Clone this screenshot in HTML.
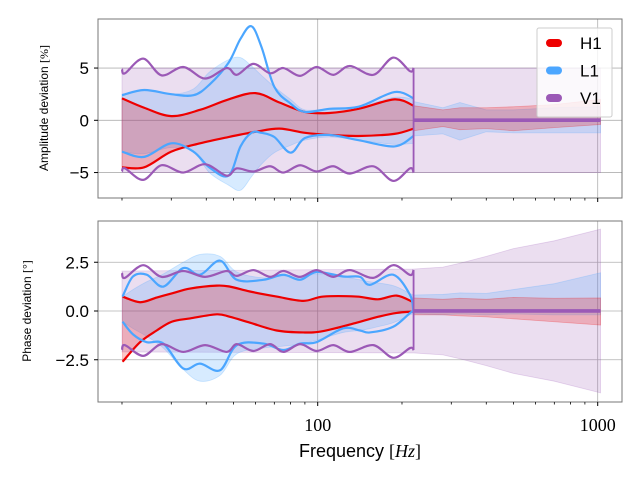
<!DOCTYPE html>
<html><head><meta charset="utf-8"><style>
html,body{margin:0;padding:0;background:#fff;}
svg{display:block;font-family:"Liberation Sans",sans-serif;}
</style></head><body>
<svg id="chart" width="640" height="480" viewBox="0 0 640 480"></svg>
<script>
// ---------- data ----------
const ampH1Freq=[20,24,30,38,48,60,73,90,110,140,188,220];
const ampH1Up=[2.1,1.2,0.4,1.0,2.0,2.6,1.7,0.8,0.7,1.1,2.0,1.4];
const ampH1Lo=[-4.5,-4.5,-3.0,-2.2,-1.6,-1.1,-0.8,-1.2,-1.4,-1.5,-1.3,-0.8];
const ampL1Freq=[20,24,30,36,41,48,53,58,63,70,80,90,110,140,188,220];
const ampL1Up=[2.4,2.9,2.5,2.4,3.4,5.5,7.8,9.0,7.0,3.2,1.6,0.8,1.1,1.3,2.7,2.1];
const ampL1Lo=[-3.0,-3.5,-2.2,-3.0,-4.5,-5.3,-2.5,-1.2,-1.2,-1.6,-3.1,-1.7,-1.4,-1.9,-2.5,-1.5];
const ampL1BandUp=[2.4,2.9,2.5,3.0,4.6,5.8,6.0,5.2,4.3,3.2,2.0,1.0,1.1,1.3,2.2,2.0];
const ampL1BandLo=[-3.0,-3.2,-2.6,-3.0,-5.0,-6.2,-6.7,-5.4,-4.2,-3.1,-2.4,-1.9,-1.6,-1.9,-2.3,-2.2];
const v1Freq=[20,20.5,23.8,27.7,33.1,39.6,47.3,51.4,58.9,67.6,75.4,86.5,99,113.7,130.3,158,186,213.6,220];
const ampV1Up=[4.9,4.5,5.9,4.3,5.1,4.0,5.0,4.35,5.4,4.5,5.0,4.25,5.1,4.35,5.2,4.35,6.0,4.7,5.0];
const ampV1Lo=[-4.9,-4.6,-5.7,-4.3,-5.0,-4.2,-5.3,-4.6,-4.9,-4.4,-5.0,-4.3,-4.9,-4.4,-5.1,-4.4,-5.8,-4.6,-5.0];
const hiFreq=[220,280,322,400,500,700,1024];
const ampH1HiUp=[1.4,1.0,1.2,1.2,1.3,1.5,2.0];
const ampH1HiLo=[-1.0,-0.6,-0.9,-0.8,-1.0,-0.7,-0.4];
const ampL1HiUp=[1.8,1.2,1.7,1.0,1.0,1.2,1.3];
const ampL1HiLo=[-1.5,-1.3,-1.9,-1.1,-1.2,-1.2,-1.2];
const ampV1HiBand=[5,5,5,5,5,5,5];

const phH1Freq=[20.1,23.2,26.6,30.1,35,43.6,48.6,57.3,71.4,88.9,104.7,137.8,164,191.5,219.5];
const phH1Up=[0.74,0.45,0.69,0.9,1.15,1.3,1.25,1.0,0.74,0.52,0.74,0.74,0.6,0.79,0.45];
const phH1Lo=[-2.6,-1.6,-1.0,-0.55,-0.38,-0.17,-0.3,-0.6,-1.0,-1.1,-1.03,-0.6,-0.3,-0.1,-0.03];
const phL1Freq=[20.1,21.9,24.5,28.1,33.1,38,44.8,51.4,64,75.4,86.5,99,123.4,141.6,153.6,186,213.6,219.5];
const phL1Up=[0.74,1.77,1.86,1.25,2.2,1.86,2.58,1.6,1.6,1.86,1.6,2.0,1.77,1.75,1.34,1.86,0.83,0.0];
const phL1Lo=[-0.55,-1.2,-1.6,-1.67,-2.95,-2.7,-3.04,-1.75,-1.67,-2.0,-1.67,-1.6,-0.89,-1.0,-1.1,-0.81,-0.1,0.0];
const phL1BandUp=[0.74,1.1,1.5,1.9,2.5,2.9,2.8,2.0,1.7,1.8,1.7,1.9,1.75,1.6,1.5,1.3,0.9,0.82];
const phL1BandLo=[-0.55,-0.9,-1.3,-1.9,-3.0,-3.6,-3.3,-2.2,-1.9,-1.8,-1.7,-1.5,-1.1,-1.0,-0.9,-0.6,-0.2,-0.15];
const phV1Up=[1.95,1.7,2.35,1.75,2.05,1.75,2.05,1.8,2.1,1.75,2.05,1.75,2.1,1.75,2.1,1.7,2.35,1.85,2.1];
const phV1Lo=[-2.0,-1.75,-2.3,-1.7,-2.1,-1.75,-2.1,-1.7,-2.05,-1.7,-2.1,-1.7,-2.05,-1.75,-2.1,-1.75,-2.4,-1.9,-2.0];
const phH1HiUp=[0.67,0.6,0.65,0.6,0.7,0.65,0.67];
const phH1HiLo=[-0.2,-0.2,-0.25,-0.3,-0.4,-0.55,-0.72];
const phL1HiUp=[0.82,0.85,0.93,0.9,1.1,1.4,1.96];
const phL1HiLo=[-0.15,-0.2,-0.15,-0.2,-0.15,-0.2,-0.2];
const phV1HiBand=[2.15,2.25,2.45,2.8,3.2,3.6,4.2];

const yTicksAmp=[5,0,-5], yTickLabelsAmp=["5","0","\u22125"];
const yTicksPh=[2.5,0,-2.5], yTickLabelsPh=["2.5","0.0","\u22122.5"];
const xMajor=[100,1000], xMajorLabels=["100","1000"];
const xMinor=[20,30,40,50,60,70,80,90,200,300,400,500,600,700,800,900];

// ---------- geometry ----------
const L=98,R=622;
const P1={top:19,bot:198,zero:120.3,k:10.45};
const P2={top:221,bot:402,zero:311,k:19.5};
const X=f=>317.7+280*Math.log10(f/100);
const Y=(p,v)=>p.zero-v*p.k;
const NS="http://www.w3.org/2000/svg";
const svg=document.getElementById('chart');
function mk(tag,attrs,parent){const e=document.createElementNS(NS,tag);for(const k in attrs)e.setAttribute(k,attrs[k]);(parent||svg).appendChild(e);return e;}
function pts(p,fs,vs){return fs.map((f,i)=>[X(f),Y(p,vs[i])]);}
function spline(P){let d=`M${P[0][0].toFixed(2)},${P[0][1].toFixed(2)}`;
 for(let i=0;i<P.length-1;i++){const p0=P[i-1]||P[i],p1=P[i],p2=P[i+1],p3=P[i+2]||p2;
  const c1=[p1[0]+(p2[0]-p0[0])/6,p1[1]+(p2[1]-p0[1])/6],c2=[p2[0]-(p3[0]-p1[0])/6,p2[1]-(p3[1]-p1[1])/6];
  d+=`C${c1[0].toFixed(2)},${c1[1].toFixed(2)} ${c2[0].toFixed(2)},${c2[1].toFixed(2)} ${p2[0].toFixed(2)},${p2[1].toFixed(2)}`;}
 return d;}
function poly(P){return 'M'+P.map(q=>q[0].toFixed(2)+','+q[1].toFixed(2)).join('L');}
function band(p,fs,up,lo,color,op,name,straight){
 const a=pts(p,fs,up),b=pts(p,fs,lo).reverse();
 const fn=straight?poly:spline;
 const d=fn(a)+fn(b).replace('M','L')+'Z';
 const e=mk('path',{d,fill:color,'fill-opacity':op,stroke:color,'stroke-opacity':op*1.2,'stroke-width':0.8},gClip[p===P1?0:1]);
 
 }
function line(p,fs,vs,color,name){
 const e=mk('path',{d:spline(pts(p,fs,vs)),fill:'none',stroke:color,'stroke-width':2.2},gClip[p===P1?0:1]);
 
 }

const RED='#ee0000',BLUE='#4ba6ff',PUR='#9b59b6';
const gClip=[];
[P1,P2].forEach((p,i)=>{
 const cp=mk('clipPath',{id:'c'+i});mk('rect',{x:L,y:p.top,width:R-L,height:p.bot-p.top},cp);
 const g=mk('g',{});
 
 
 (i?yTicksPh:yTicksAmp).forEach(v=>mk('line',{x1:L,x2:R,y1:Y(p,v),y2:Y(p,v),stroke:'#b0b0b0','stroke-width':0.8},g));
 xMajor.forEach(f=>mk('line',{x1:X(f),x2:X(f),y1:p.top,y2:p.bot,stroke:'#b0b0b0','stroke-width':0.8},g));
 gClip.push(mk('g',{'clip-path':`url(#c${i})`}));
});

// ---- amplitude panel ----
band(P1,[20,220].concat(hiFreq.slice(1)),[5,5].concat(ampV1HiBand.slice(1)),[-5,-5].concat(ampV1HiBand.slice(1).map(v=>-v)),PUR,0.2,'v1-amplitude-band',true);
band(P1,ampL1Freq,ampL1BandUp,ampL1BandLo,BLUE,0.22,'l1-amplitude-band');
band(P1,hiFreq,ampL1HiUp,ampL1HiLo,BLUE,0.22,'l1-amplitude-band-high',true);
band(P1,ampH1Freq,ampH1Up,ampH1Lo,RED,0.22,'h1-amplitude-band');
band(P1,hiFreq,ampH1HiUp,ampH1HiLo,RED,0.22,'h1-amplitude-band-high',true);
line(P1,ampH1Freq,ampH1Up,RED,'h1-amplitude-upper');
line(P1,ampH1Freq,ampH1Lo,RED,'h1-amplitude-lower');
line(P1,ampL1Freq,ampL1Up,BLUE,'l1-amplitude-upper');
line(P1,ampL1Freq,ampL1Lo,BLUE,'l1-amplitude-lower');
line(P1,v1Freq,ampV1Up,PUR,'v1-amplitude-upper');
line(P1,v1Freq,ampV1Lo,PUR,'v1-amplitude-lower');
// ---- phase panel ----
band(P2,[20,220].concat(hiFreq.slice(1)),[2.05,2.15].concat(phV1HiBand.slice(1)),[-2.1,-2.15].concat(phV1HiBand.slice(1).map(v=>-v)),PUR,0.2,'v1-phase-band',true);
band(P2,phL1Freq,phL1BandUp,phL1BandLo,BLUE,0.22,'l1-phase-band');
band(P2,hiFreq,phL1HiUp,phL1HiLo,BLUE,0.22,'l1-phase-band-high',true);
band(P2,phH1Freq,phH1Up,phH1Lo,RED,0.22,'h1-phase-band');
band(P2,hiFreq,phH1HiUp,phH1HiLo,RED,0.22,'h1-phase-band-high',true);
line(P2,phH1Freq,phH1Up,RED,'h1-phase-upper');
line(P2,phH1Freq,phH1Lo,RED,'h1-phase-lower');
line(P2,phL1Freq,phL1Up,BLUE,'l1-phase-upper');
line(P2,phL1Freq,phL1Lo,BLUE,'l1-phase-lower');
line(P2,v1Freq,phV1Up,PUR,'v1-phase-upper');
line(P2,v1Freq,phV1Lo,PUR,'v1-phase-lower');
[[P1,ampV1Up,ampV1Lo],[P2,phV1Up,phV1Lo]].forEach(([p,u,l],i)=>{
 const n=u.length-1,x0=X(220);
 const e=mk('path',{d:`M${x0},${Y(p,u[n])}L${x0},${Y(p,l[n])}M${x0},${Y(p,0)-1}L${X(1024)},${Y(p,0)-1}M${x0},${Y(p,0)+0.8}L${X(1024)},${Y(p,0)+0.8}`,stroke:PUR,'stroke-width':1.8,fill:'none'},gClip[i]);
 
 
});

// ---- axes frames, ticks, labels ----
[P1,P2].forEach((p,i)=>{
 const f=mk('rect',{x:L,y:p.top,width:R-L,height:p.bot-p.top,fill:'none',stroke:'#777','stroke-width':1});
 
 
 const ys=i?yTicksPh:yTicksAmp,yl=i?yTickLabelsPh:yTickLabelsAmp;
 ys.forEach((v,j)=>{
  mk('line',{x1:L-4,x2:L,y1:Y(p,v),y2:Y(p,v),stroke:'#000','stroke-width':1});
  const t=mk('text',{x:L-9,y:Y(p,v)+6,'text-anchor':'end','font-size':17,fill:'#000'});
  t.textContent=yl[j];
  
  
 });
 xMajor.forEach(fv=>mk('line',{x1:X(fv),x2:X(fv),y1:p.bot,y2:p.bot+4,stroke:'#000','stroke-width':1}));
 xMinor.forEach(fv=>mk('line',{x1:X(fv),x2:X(fv),y1:p.bot,y2:p.bot+2.5,stroke:'#000','stroke-width':0.8}));
});
xMajor.forEach((fv,j)=>{
 const t=mk('text',{x:X(fv),y:431,'text-anchor':'middle','font-size':18,'font-family':'Liberation Serif, serif',fill:'#000'});
 t.textContent=xMajorLabels[j];
 
 
});
let t=mk('text',{x:360,y:457,'text-anchor':'middle','font-size':18,fill:'#000'});
t.innerHTML='Frequency <tspan font-family="Liberation Serif, serif">[<tspan font-style="italic">Hz</tspan>]</tspan>';


t=mk('text',{transform:'translate(48,108) rotate(-90)','text-anchor':'middle','font-size':12,fill:'#000'});
t.innerHTML='Amplitude deviation <tspan font-family="Liberation Serif, serif">[%]</tspan>';


t=mk('text',{transform:'translate(31,311) rotate(-90)','text-anchor':'middle','font-size':12,fill:'#000'});
t.innerHTML='Phase deviation <tspan font-family="Liberation Serif, serif">[°]</tspan>';



// ---- legend ----
const lg=mk('g',{});


mk('rect',{x:537,y:28,width:75,height:89,rx:2,fill:'#fff','fill-opacity':0.8,stroke:'#ccc'},lg);
const legNames=['H1','L1','V1'],legColors=[RED,BLUE,PUR];
legNames.forEach((n,i)=>{
 const yy=43+i*27.5;
 const m=mk('rect',{x:546,y:yy-4,width:16,height:8,rx:4,fill:legColors[i]},lg);
 
 
 const tt=mk('text',{x:580,y:yy+6,'font-size':17,fill:'#000'},lg);
 tt.textContent=n;
 
 
});
</script>
</body></html>
